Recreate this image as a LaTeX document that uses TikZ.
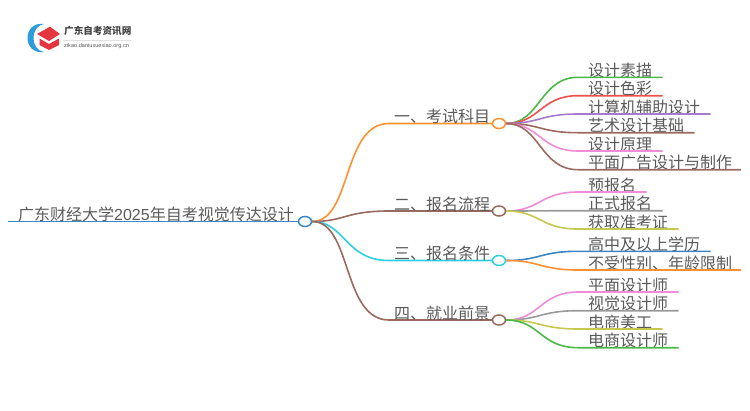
\documentclass[tikz,border=0pt]{standalone}
\usepackage{fontspec}
\usetikzlibrary{shapes.geometric}
\setmainfont{Noto Sans CJK SC}
\newfontfamily\latinf{Liberation Sans}
\definecolor{cOrange}{HTML}{FF9130}
\definecolor{cBrown}{HTML}{9B6A5E}
\definecolor{cCyan}{HTML}{2FCFE0}
\definecolor{cBlue}{HTML}{3C86C4}
\definecolor{cGreen}{HTML}{4CB848}
\definecolor{cRed}{HTML}{EE4F4F}
\definecolor{cPurple}{HTML}{A57BD0}
\definecolor{cPink}{HTML}{F08CD8}
\definecolor{cGray}{HTML}{9A9A9A}
\definecolor{cOlive}{HTML}{C8C850}
\definecolor{cText}{HTML}{5A5A5A}
\definecolor{cLogoRed}{HTML}{E5353F}
\definecolor{cLogoBlue}{HTML}{2E9BDB}
\tikzset{
  x=1pt,y=-1pt,
  lbl/.style={inner sep=0pt,anchor=base west,text=cText,font=\fontsize{16pt}{17pt}\selectfont},
  hub/.style={ellipse,draw=#1,fill=white,line width=1.5pt,minimum width=13pt,minimum height=10pt,inner sep=0pt},
  con/.style={line width=1.6pt,draw=#1},
}
\begin{document}
\begin{tikzpicture}
\useasboundingbox (0,0) rectangle (750,410);
% logo
\fill[cLogoBlue] (44,24) .. controls (22,21) and (22,55) .. (44,52) .. controls (30,50) and (30,26) .. (44,24) -- cycle;
\fill[cLogoRed] (37,34) -- (50,26.7) -- (60,34) -- (49,41) -- cycle;
\fill[cLogoRed] (39.5,38.5) -- (49,44) -- (59,38.5) -- (59,45) -- (49,50) -- (39.5,45) -- cycle;
\node[inner sep=0pt,anchor=west,text=black!75,font=\fontsize{9.6pt}{10pt}\selectfont\bfseries] (logotext) at (64,31) {广东自考资讯网};
\coordinate (ruleA) at (63,40.5);
\coordinate (ruleB) at (131,40.5);
\draw[black!12,line width=.5pt] (ruleA) -- (ruleB);
\node[inner sep=0pt,anchor=west,text=black!65,font=\latinf\fontsize{5.6pt}{6pt}\selectfont] (logourl) at (64,46.5) {zikao.daniuxuexiao.org.cn};
% hubs
\coordinate (rootstart) at (8,221.5);
\node[hub=cBlue] (root) at (305,221.5) {};
\node[hub=cOrange] (b1) at (499,123.5) {};
\node[hub=cBrown] (b2) at (499,211) {};
\node[hub=cCyan] (b3) at (499,260.5) {};
\node[hub=cBrown] (b4) at (499,320) {};
% root
\draw[con=cBlue] (rootstart) -- (root.west);
\node[lbl] (roott) at (18,220.5) {广东财经大学{\latinf 2025}年自考视觉传达设计};
\draw[con=cOrange] (root.east) .. controls (352,221.5) and (342,123.5) .. (389,123.5) -- (b1.west);
\draw[con=cBrown] (root.east) .. controls (345,221.5) and (345,211) .. (389,211) -- (b2.west);
\draw[con=cCyan] (root.east) .. controls (345,221.5) and (345,260.5) .. (389,260.5) -- (b3.west);
\draw[con=cBrown] (root.east) .. controls (352,221.5) and (342,320) .. (389,320) -- (b4.west);
\node[lbl] (t1) at (394,122.5) {一、考试科目};
\node[lbl] (t2) at (394,210) {二、报名流程};
\node[lbl] (t3) at (394,259.5) {三、报名条件};
\node[lbl] (t4) at (394,319) {四、就业前景};
% leaves: name / hub / hub y / y / end x / colour / text
\foreach \n/\hubn/\hy/\y/\e/\c/\t in {
 l1/b1/123.5/77.3/662.5/cGreen/设计素描,
 l2/b1/123.5/95.7/662.5/cRed/设计色彩,
 l3/b1/123.5/114/710.5/cPurple/计算机辅助设计,
 l4/b1/123.5/132.7/694.5/cBrown/艺术设计基础,
 l5/b1/123.5/151/662.5/cPink/设计原理,
 l6/b1/123.5/169.7/741/cBrown/平面广告设计与制作,
 l7/b2/211/192/646.5/cPink/预报名,
 l8/b2/211/210.7/662.5/cGray/正式报名,
 l9/b2/211/229/678.5/cOlive/获取准考证,
 l10/b3/260.5/251.3/710.5/cBlue/高中及以上学历,
 l11/b3/260.5/270/741/cOrange/不受性别、年龄限制,
 l12/b4/320/292/678.5/cPink/平面设计师,
 l13/b4/320/310.7/678.5/cGray/视觉设计师,
 l14/b4/320/329/662.5/cOlive/电商美工,
 l15/b4/320/347.7/678.5/cGreen/电商设计师}{
  \coordinate (\n e) at (\e,\y);
  \coordinate (\n m) at (578,\y);
  \node[lbl] (\n) at (588,\y-1) {\t};
  \draw[con=\c] (\hubn.east) .. controls (540,\hy) and (540,\y) .. (\n m) -- (\n e);
}
\end{tikzpicture}
\end{document}
